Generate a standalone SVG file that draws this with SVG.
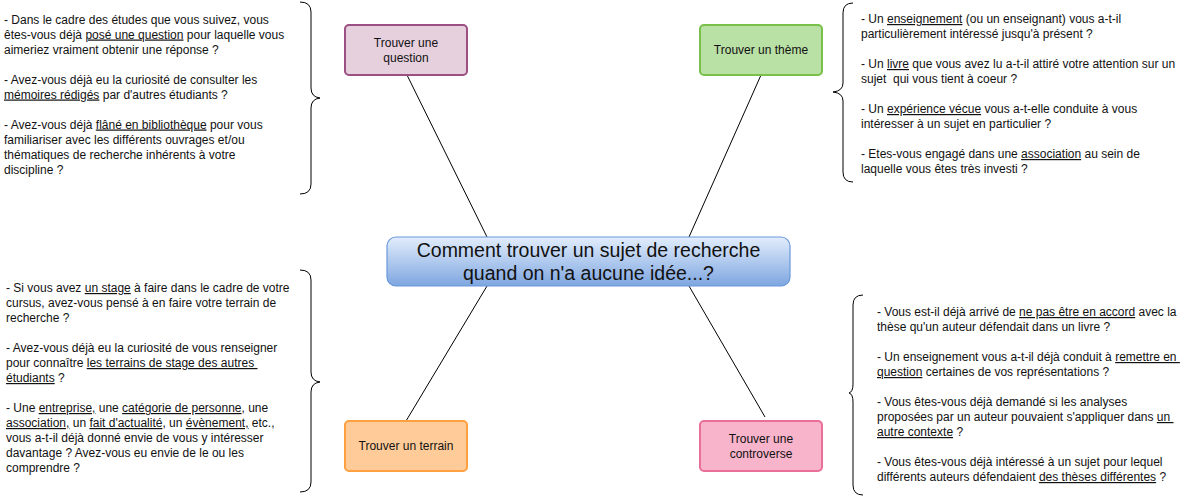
<svg xmlns="http://www.w3.org/2000/svg" width="1199" height="497" viewBox="0 0 1199 497" xml:space="preserve">
<defs>
<linearGradient id="gc" x1="0" y1="0" x2="0" y2="1"><stop offset="0" stop-color="#e2edfc"/><stop offset="1" stop-color="#7ea6e0"/></linearGradient>
<style>
text{font-family:"Liberation Sans",Arial,sans-serif;font-size:12px;fill:#111;white-space:pre}
.u{text-decoration:underline}
.c{text-anchor:middle}
.big{font-size:19.5px}
.box{stroke-width:2}
.edge{stroke:#000;stroke-width:1;fill:none}
.brace{stroke:#000;stroke-width:1;fill:none}
</style>
</defs>
<g id="connectors">
<line class="edge" x1="407" y1="75" x2="487" y2="237"/>
<line class="edge" x1="761" y1="75" x2="689" y2="237"/>
<line class="edge" x1="487" y1="286" x2="406" y2="421"/>
<line class="edge" x1="689" y1="286" x2="765" y2="417"/>
</g>
<g id="center">
<rect x="387" y="237" width="403" height="49" rx="9" fill="url(#gc)" stroke="#6a98dc" stroke-width="1.2"/>
<text class="c big" x="588.5" y="257">Comment trouver un sujet de recherche</text>
<text class="c big" x="588.5" y="280">quand on n'a aucune idée...?</text>
</g>
<g id="question">
<rect class="box" x="345" y="25" width="122" height="50" rx="4" fill="#e6d0de" stroke="#9c4f82"/>
<text class="c" x="406" y="46.5">Trouver une</text>
<text class="c" x="406" y="61.5">question</text>
</g>
<g id="theme">
<rect class="box" x="700" y="25" width="122" height="50" rx="4" fill="#b9e0a5" stroke="#79c04a"/>
<text class="c" x="761" y="54">Trouver un thème</text>
</g>
<g id="terrain">
<rect class="box" x="345" y="421" width="122" height="50" rx="4" fill="#ffcc99" stroke="#ffa040"/>
<text class="c" x="406" y="450">Trouver un terrain</text>
</g>
<g id="controverse">
<rect class="box" x="700" y="421" width="122" height="50" rx="4" fill="#f8b4cb" stroke="#ea6f98"/>
<text class="c" x="761" y="442.5">Trouver une</text>
<text class="c" x="761" y="457.5">controverse</text>
</g>
<g id="notes-question">
<path class="brace" d="M300 2 Q311 2 311 12 L311 88 Q311 97 320 98 Q311 99 311 108 L311 184 Q311 194 300 194"/>
<text x="4" y="23.5">- Dans le cadre des études que vous suivez, vous</text>
<text x="4" y="38.5">êtes-vous déjà <tspan class="u">posé une question</tspan> pour laquelle vous</text>
<text x="4" y="53.5">aimeriez vraiment obtenir une réponse ?</text>
<text x="4" y="83.5">- Avez-vous déjà eu la curiosité de consulter les</text>
<text x="4" y="98.5"><tspan class="u">mémoires rédigés</tspan> par d'autres étudiants ?</text>
<text x="4" y="128.5">- Avez-vous déjà <tspan class="u">flâné en bibliothèque</tspan> pour vous</text>
<text x="4" y="143.5">familiariser avec les différents ouvrages et/ou</text>
<text x="4" y="158.5">thématiques de recherche inhérents à votre</text>
<text x="4" y="173.5">discipline ?</text>
</g>
<g id="notes-theme">
<path class="brace" d="M853 3 Q843 3 843 13 L843 83 Q843 91 833 92 Q843 93 843 101 L843 172 Q843 182 853 182"/>
<text x="861" y="23">- Un <tspan class="u">enseignement</tspan> (ou un enseignant) vous a-t-il</text>
<text x="861" y="38">particulièrement intéressé jusqu'à présent ?</text>
<text x="861" y="68">- Un <tspan class="u">livre</tspan> que vous avez lu a-t-il attiré votre attention sur un</text>
<text x="861" y="83">sujet  qui vous tient à coeur ?</text>
<text x="861" y="113">- Un <tspan class="u">expérience vécue</tspan> vous a-t-elle conduite à vous</text>
<text x="861" y="128">intéresser à un sujet en particulier ?</text>
<text x="861" y="158">- Etes-vous engagé dans une <tspan class="u">association</tspan> au sein de</text>
<text x="861" y="173">laquelle vous êtes très investi ?</text>
</g>
<g id="notes-terrain">
<path class="brace" d="M300 270 Q311 270 311 280 L311 372 Q311 381 320 382 Q311 383 311 392 L311 482 Q311 492 300 492"/>
<text x="6" y="292">- Si vous avez <tspan class="u">un stage</tspan> à faire dans le cadre de votre</text>
<text x="6" y="307">cursus, avez-vous pensé à en faire votre terrain de</text>
<text x="6" y="322">recherche ?</text>
<text x="6" y="352">- Avez-vous déjà eu la curiosité de vous renseigner</text>
<text x="6" y="367">pour connaître <tspan class="u">les terrains de stage des autres </tspan></text>
<text x="6" y="382"><tspan class="u">étudiants</tspan> ?</text>
<text x="6" y="412">- Une <tspan class="u">entreprise,</tspan> une <tspan class="u">catégorie de personne</tspan>, une</text>
<text x="6" y="427"><tspan class="u">association,</tspan> un <tspan class="u">fait d'actualité</tspan>, un <tspan class="u">évènement,</tspan> etc.,</text>
<text x="6" y="442">vous a-t-il déjà donné envie de vous y intéresser</text>
<text x="6" y="457">davantage ? Avez-vous eu envie de le ou les</text>
<text x="6" y="472">comprendre ?</text>
</g>
<g id="notes-controverse">
<path class="brace" d="M863 295 Q853 295 853 305 L853 384 Q853 392 849 393 Q853 394 853 402 L853 485 Q853 495 863 495"/>
<text x="877" y="316">- Vous est-il déjà arrivé de <tspan class="u">ne pas être en accord</tspan> avec la</text>
<text x="877" y="331">thèse qu'un auteur défendait dans un livre ?</text>
<text x="877" y="361">- Un enseignement vous a-t-il déjà conduit à <tspan class="u">remettre en </tspan></text>
<text x="877" y="376"><tspan class="u">question</tspan> certaines de vos représentations ?</text>
<text x="877" y="406">- Vous êtes-vous déjà demandé si les analyses</text>
<text x="877" y="421">proposées par un auteur pouvaient s'appliquer dans <tspan class="u">un </tspan></text>
<text x="877" y="436"><tspan class="u">autre contexte</tspan> ?</text>
<text x="877" y="466">- Vous êtes-vous déjà intéressé à un sujet pour lequel</text>
<text x="877" y="481">différents auteurs défendaient <tspan class="u">des thèses différentes</tspan> ?</text>
</g>
</svg>
